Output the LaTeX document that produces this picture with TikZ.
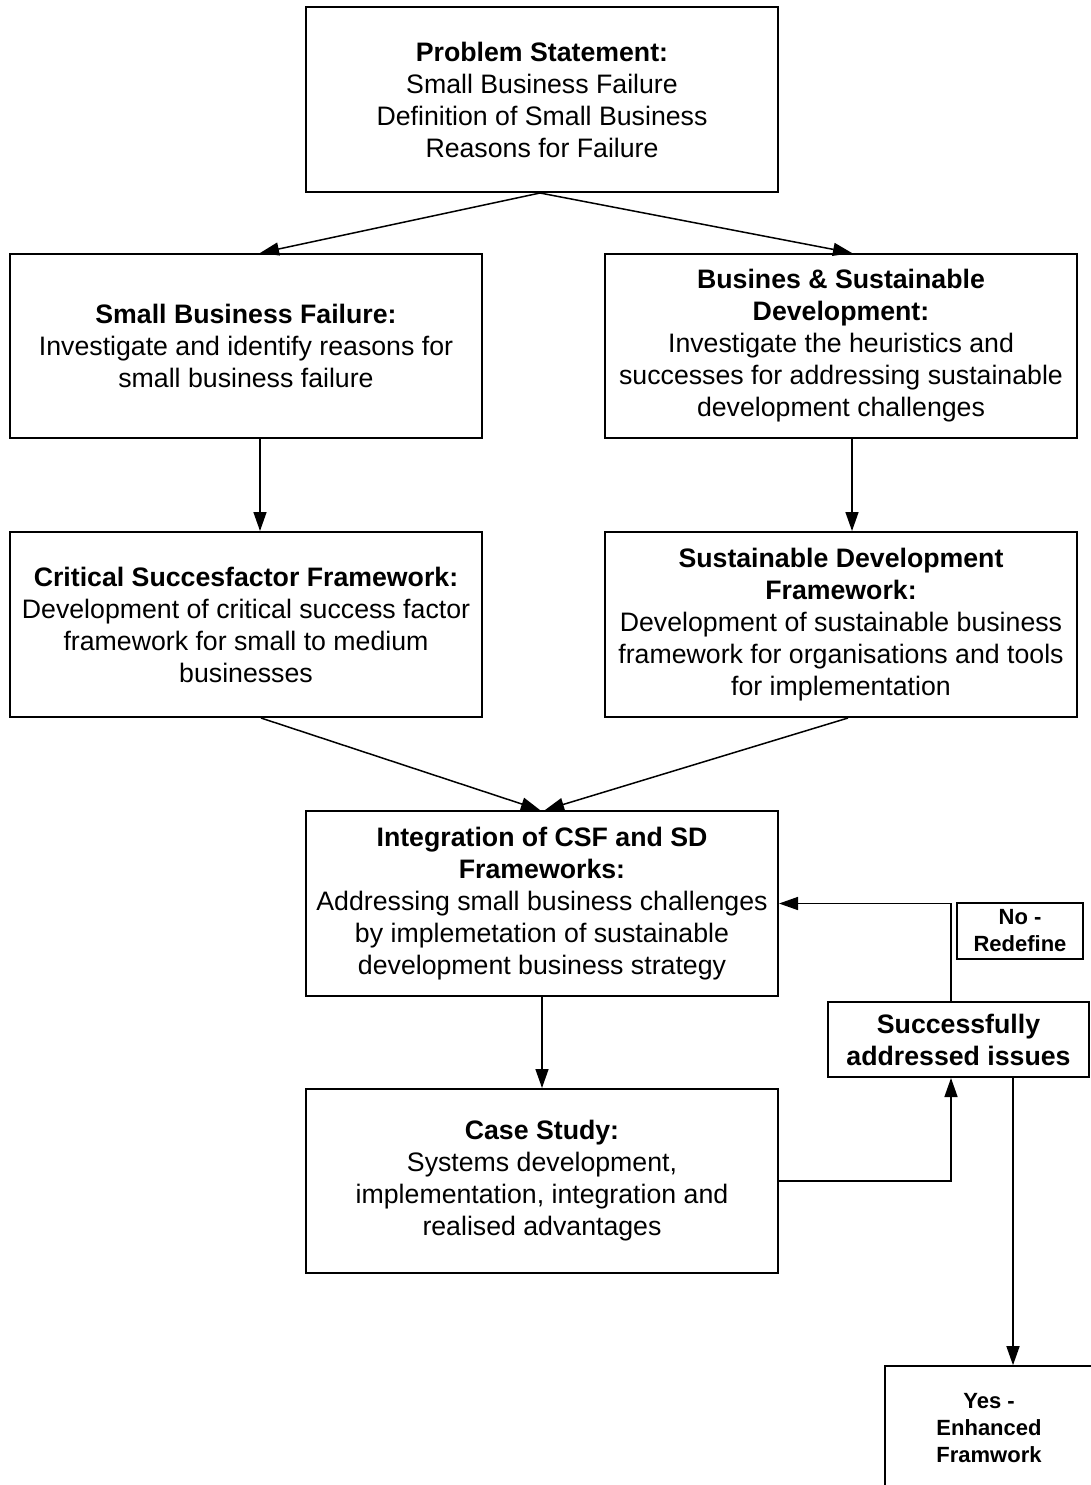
\documentclass[tikz,border=0pt]{standalone}
\usepackage{fontspec}
\setmainfont{Liberation Sans}
\usetikzlibrary{arrows.meta,calc}

\tikzset{
  box/.style={draw, line width=2pt, align=center, inner sep=0pt,
    font=\fontsize{26.7}{32}\selectfont},
  wide/.style={box, minimum width=472pt, minimum height=185pt},
  smallbox/.style={draw, line width=1.6pt, align=center, inner sep=0pt,
    font=\bfseries\fontsize{22}{27}\selectfont},
  link/.style={line width=1.5pt, -{Triangle[length=19pt,width=13pt]}},
}

\begin{document}
\begin{tikzpicture}[x=1pt, y=-1pt]
\useasboundingbox (0,0) rectangle (1091,1485);

% main column of work packages
\node[wide] (prob) at (542,99.5)
  {\textbf{Problem Statement:}\\Small Business Failure\\Definition of Small Business\\Reasons for Failure};
\node[wide, minimum height=184pt] (sbf) at (246,346)
  {\textbf{Small Business Failure:}\\Investigate and identify reasons for\\small business failure};
\node[wide, minimum height=184pt] (bsd) at (841,346)
  {\textbf{Busines \& Sustainable}\\\textbf{Development:}\\Investigate the heuristics and\\successes for addressing sustainable\\development challenges};
\node[wide] (csf) at (246,624.5)
  {\textbf{Critical Succesfactor Framework:}\\Development of critical success factor\\framework for small to medium\\businesses};
\node[wide] (sdf) at (841,624.5)
  {\textbf{Sustainable Development}\\\textbf{Framework:}\\Development of sustainable business\\framework for organisations and tools\\for implementation};
\node[wide] (integ) at (542,903.5)
  {\textbf{Integration of CSF and SD}\\\textbf{Frameworks:}\\Addressing small business challenges\\by implemetation of sustainable\\development business strategy};
\node[wide, minimum height=184pt] (case) at (542,1181)
  {\textbf{Case Study:}\\Systems development,\\implementation, integration and\\realised advantages};

% decision and outcomes
\node[box, font=\bfseries\fontsize{26.7}{32}\selectfont,
      minimum width=261pt, minimum height=75pt] (succ) at (958.5,1039.5)
  {Successfully\\addressed issues};
\node[smallbox, minimum width=126pt, minimum height=56pt] (nored) at (1020,931)
  {No -\\Redefine};
\node[smallbox, minimum width=208pt, minimum height=124pt] (yes) at (989,1428)
  {Yes -\\Enhanced\\Framwork};

% connectors
\draw[link] ([xshift=-2pt]prob.south) -- ([xshift=14pt]sbf.north);
\draw[link] ([xshift=-2pt]prob.south) -- ([xshift=11pt]bsd.north);
\draw[link] ([xshift=14pt]sbf.south) -- ([xshift=14pt]csf.north);
\draw[link] ([xshift=11pt]bsd.south) -- ([xshift=11pt]sdf.north);
\draw[link] ([xshift=15pt]csf.south) -- ([xshift=-2pt]integ.north);
\draw[link] ([xshift=7pt]sdf.south) -- ([xshift=3pt]integ.north);
\draw[link] (integ.south) -- (case.north);
\draw[link] (case.east) -| ([xshift=-7.5pt]succ.south);
\draw[link] ([xshift=-7.5pt]succ.north) |- (integ.east);
\draw[link] ([xshift=54.5pt]succ.south) -- ([xshift=24pt]yes.north);
\end{tikzpicture}
\end{document}
